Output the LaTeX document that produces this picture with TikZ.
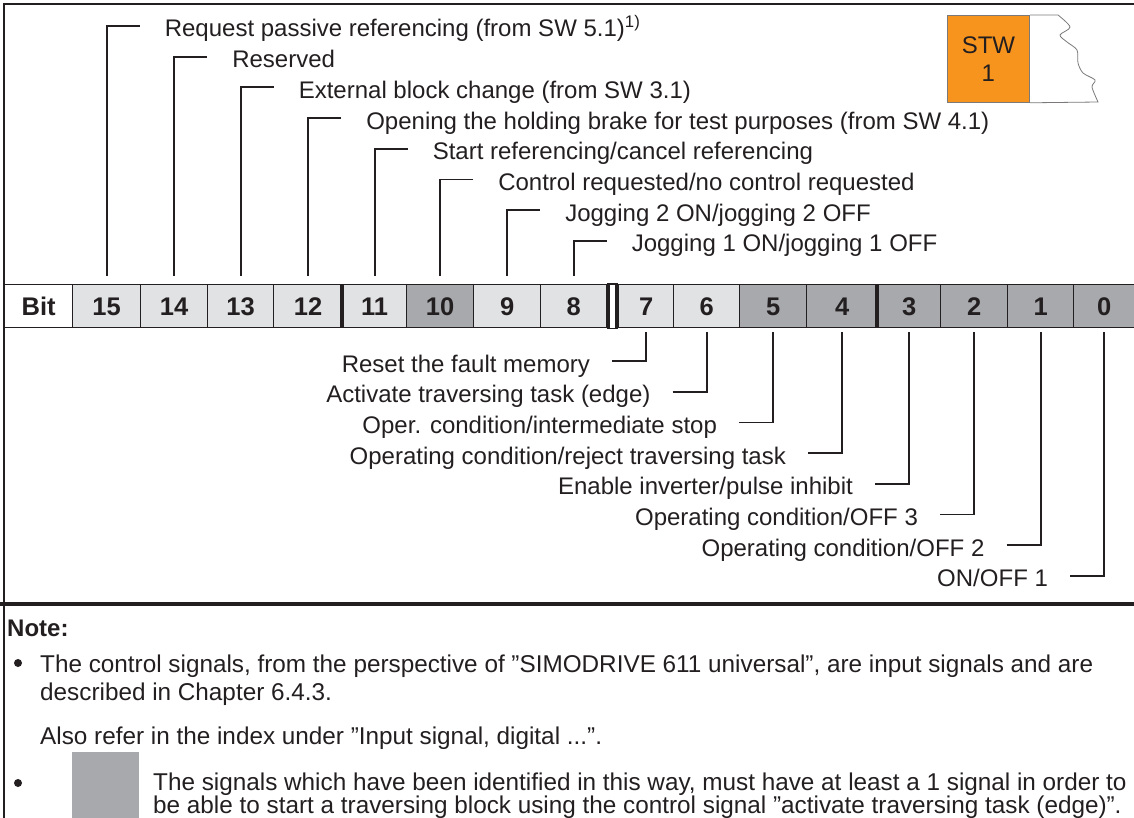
\documentclass[tikz,border=0pt]{standalone}
\usepackage{fontspec}
\setmainfont{Liberation Sans}
\usetikzlibrary{positioning,calc}

\definecolor{ink}{HTML}{231F20}
\definecolor{bitlight}{HTML}{E1E2E4}
\definecolor{bitdark}{HTML}{A7A9AC}
\definecolor{stworange}{HTML}{F7941D}

\tikzset{
  txt/.style={inner sep=0pt, text=ink, font=\fontsize{24}{28}\selectfont},
  notetxt/.style={txt, anchor=base west, font=\fontsize{24.3}{28}\selectfont},
  bitcell/.style={draw=ink, line width=1.2pt, anchor=north west, minimum height=43pt,
    inner sep=0pt, text height=18pt, text depth=0pt, text=ink,
    font=\bfseries\fontsize{25.5}{28}\selectfont},
  leader/.style={draw=ink, line width=1.8pt},
  dot/.style={circle, fill=ink, inner sep=0pt, minimum size=8pt},
}

\begin{document}
\begin{tikzpicture}[x=1pt, y=-1pt]
  \useasboundingbox (0,0) rectangle (1134,818);
  \def\rowtop{284}
  \def\dy{30.7}

  % frame
  \draw[ink, line width=1.3pt] (4,818) -- (4,4) -- (1134,4);
  \draw[ink, line width=4pt] (0,604) -- (1134,604);

  % bit row
  \foreach \n/\l/\r/\c in {Bit/4/72/white, 15/72/140/bitlight, 14/140/207/bitlight,
      13/207/273/bitlight, 12/273/342/bitlight, 11/342/406/bitlight, 10/406/473/bitdark,
      9/473/540/bitlight, 8/540/606/bitlight, 7/618/673/bitlight, 6/673/739/bitlight,
      5/739/806/bitdark, 4/806/877/bitdark, 3/877/940/bitdark, 2/940/1007/bitdark,
      1/1007/1073/bitdark, 0/1073/1134/bitdark}
    \node[bitcell, fill=\c, minimum width=\r-\l] (b\n) at (\l,\rowtop) {\n};
  \draw[ink, line width=1.2pt] (b8.north east) -- (b7.north west) (b8.south east) -- (b7.south west);
  \draw[ink, line width=4pt] (b11.north west) -- (b11.south west)
    (b3.north west) -- (b3.south west);
  \draw[ink, line width=3.5pt] ($(b8.north east)+(1.5,0)$) -- ($(b8.south east)+(1.5,0)$)
    ($(b7.north west)+(-1.5,0)$) -- ($(b7.south west)+(-1.5,0)$);

  % signals above the row
  \foreach \n/\txt [count=\i from 0] in {15/{Request passive referencing (from SW 5.1)\textsuperscript{1)}},
      14/{Reserved}, 13/{External block change (from SW 3.1)},
      12/{Opening the holding brake for test purposes (from SW 4.1)},
      11/{Start referencing/cancel referencing}, 10/{Control requested/no control requested},
      9/{Jogging 2 ON/jogging 2 OFF}, 8/{Jogging 1 ON/jogging 1 OFF}} {
    \pgfmathsetmacro{\yl}{26+\dy*\i}
    \coordinate (r) at (0,\yl);
    \coordinate (u\n) at ($(b\n.north |- r)+(33,0)$);
    \node[txt, anchor=base west] (t\n) at ($(u\n)+(25,11)$) {\txt};
    \draw[leader] (u\n) -| ($(b\n.north)+(0,-8)$);
  }

  % signals below the row
  \foreach \n/\txt [count=\i from 0] in {7/{Reset the fault memory},
      6/{Activate traversing task (edge)}, 5/{Oper. condition/intermediate stop},
      4/{Operating condition/reject traversing task}, 3/{Enable inverter/pulse inhibit},
      2/{Operating condition/OFF 3}, 1/{Operating condition/OFF 2}, 0/{ON/OFF 1}} {
    \pgfmathsetmacro{\yl}{361+\dy*\i}
    \coordinate (r) at (0,\yl);
    \coordinate (l\n) at ($(b\n.south |- r)+(-34,0)$);
    \node[txt, anchor=base east] (s\n) at ($(l\n)+(-22,11)$) {\txt};
    \draw[leader] (l\n) -| ($(b\n.south)+(0,4)$);
  }

  % control word tab
  \node[txt, draw=ink!60, line width=0.8pt, fill=stworange, minimum width=82pt,
    minimum height=87pt, anchor=north west, align=center] (stw) at (947,15) {STW\\1};
  \draw[ink!60, line width=0.8pt] (stw.north east) -- (1058,15)
    -- plot[smooth] coordinates {(1058,15) (1070,27) (1060,35) (1067,42) (1077,50)
      (1078,63) (1083,73) (1095,80) (1092,87) (1098,102)}
    -- (stw.south east);

  % note
  \node[txt, anchor=base west, font=\bfseries\fontsize{24}{28}\selectfont] (note) at (7,636) {Note:};
  \node[dot] (d1) at (18,663) {};
  \node[notetxt] (n1) at (40,672)
    {The control signals, from the perspective of ”SIMODRIVE 611 universal”, are input signals and are};
  \node[notetxt] (n2) at (40,700) {described in Chapter 6.4.3.};
  \node[notetxt] (n3) at (40,744) {Also refer in the index under ”Input signal, digital ...”.};
  \node[dot] (d2) at (18,783) {};
  \node[fill=bitdark, inner sep=0pt, minimum width=67pt, minimum height=66pt, anchor=north west] (key) at (72,752) {};
  \node[notetxt] (n4) at (153,790)
    {The signals which have been identified in this way, must have at least a 1 signal in order to};
  \node[notetxt] (n5) at (153,813)
    {be able to start a traversing block using the control signal ”activate traversing task (edge)”.};
\end{tikzpicture}
\end{document}
